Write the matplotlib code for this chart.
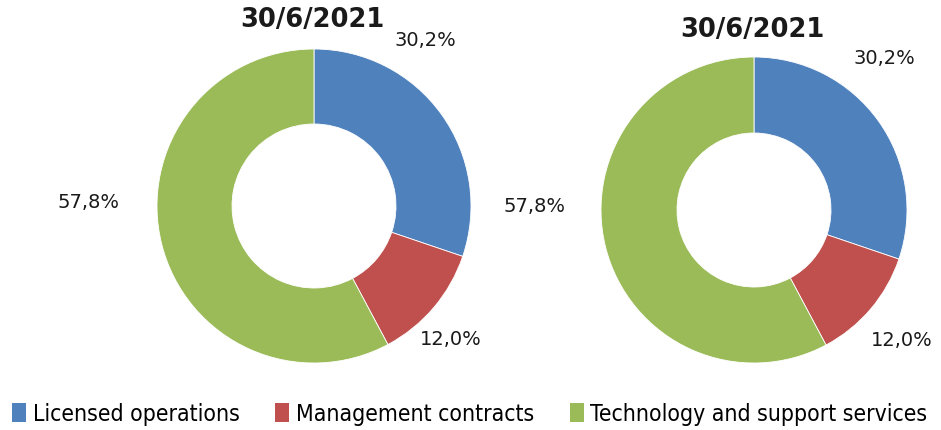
import matplotlib.pyplot as plt
from matplotlib.patches import Patch

# data
categories = ['Licensed operations', 'Management contracts', 'Technology and support services']
shares = [30.2, 12.0, 57.8]
share_labels = ['30,2%', '12,0%', '57,8%']
chart_titles = ['30/6/2021', '30/6/2021']
colors = ['#4F81BD', '#C0504D', '#9BBB59']

W, H = 941, 431
fig = plt.figure(figsize=(W / 100, H / 100), dpi=100)
ax = fig.add_axes([0, 0, 1, 1])

# pixel layout of the two donuts (center x, center y from top, outer r, inner r)
donuts = [(314, 207, 157, 82), (754, 211, 153, 77)]
title_pos = [(312, 20), (752, 30)]
# label positions (px from top-left) in order blue, red, green
label_pos = [[(425, 40), (451, 340), (88, 203)],
             [(884, 58), (902, 341), (535, 207)]]

for (cx, cy, r, ri), tpos, lpos, title in zip(donuts, title_pos, label_pos, chart_titles):
    ax.pie(shares, colors=colors, startangle=90, counterclock=False,
           center=(cx, H - cy), radius=r, frame=True,
           wedgeprops=dict(width=r - ri, edgecolor='white', linewidth=0.6))
    ax.text(tpos[0], H - tpos[1], title, ha='center', va='center',
            fontsize=18.5, fontweight='bold', color='#1a1a1a')
    for (lx, ly), lab in zip(lpos, share_labels):
        ax.text(lx, H - ly, lab, ha='center', va='center', fontsize=14, color='#1a1a1a')

ax.set_xlim(0, W)
ax.set_ylim(0, H)
ax.set_aspect('equal')
ax.axis('off')

handles = [Patch(facecolor=c, edgecolor='none') for c in colors]
fig.legend(handles, categories, loc='center', bbox_to_anchor=(0.4995, 1 - 415 / H),
           ncol=3, frameon=False, handlelength=0.6, handleheight=0.85,
           handletextpad=0.3, columnspacing=1.55,
           prop=dict(family='DejaVu Sans', stretch='condensed', size=16.5))

fig.savefig('out.png', dpi=100)
